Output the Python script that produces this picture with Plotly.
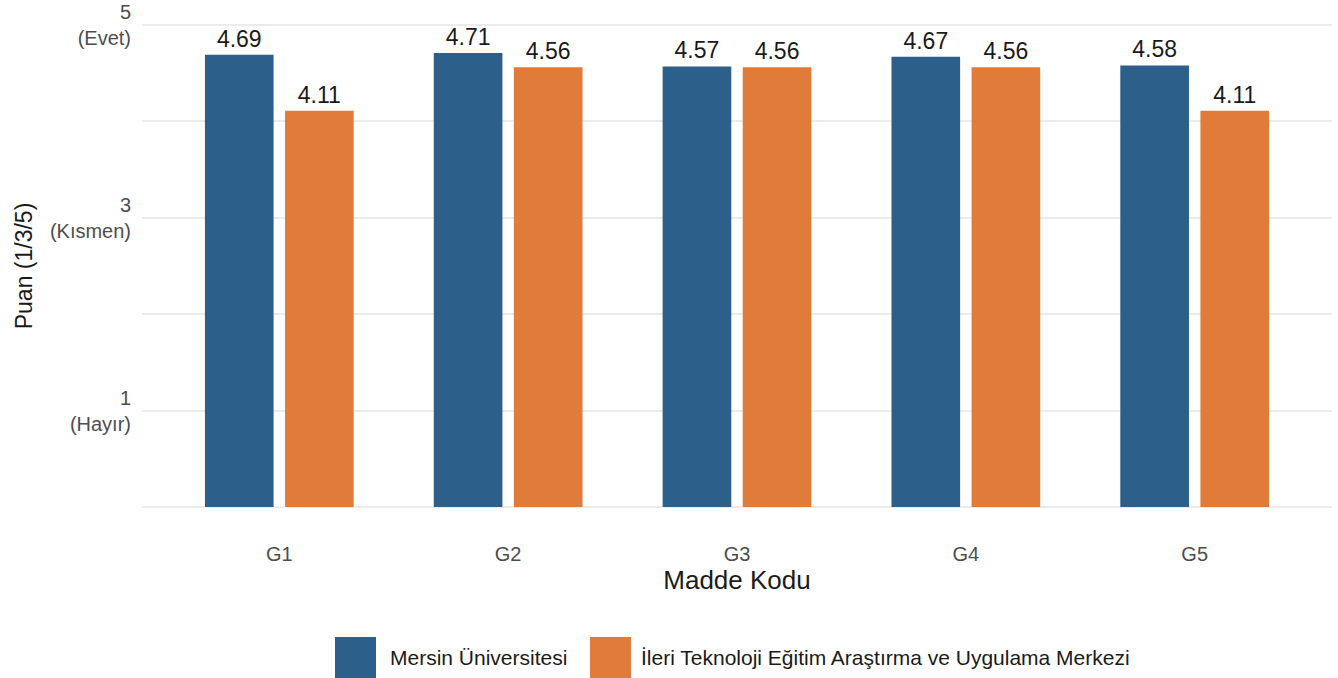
import plotly.graph_objects as go

categories = ["G1", "G2", "G3", "G4", "G5"]
series_names = ["Mersin Üniversitesi", "İleri Teknoloji Eğitim Araştırma ve Uygulama Merkezi"]
mersin_values = [4.69, 4.71, 4.57, 4.67, 4.58]
ileri_values = [4.11, 4.56, 4.56, 4.56, 4.11]
colors = ["#2C5F8A", "#E07B39"]
y_tickvals = [1, 3, 5]
y_ticktext = ["1<br>(Hayır)", "3<br>(Kısmen)", "5<br>(Evet)"]
x_title = "Madde Kodu"
y_title = "Puan (1/3/5)"

FONT = "Liberation Sans, Arial, sans-serif"

fig = go.Figure()
for name, vals, col in zip(series_names, [mersin_values, ileri_values], colors):
    fig.add_trace(go.Bar(
        x=categories, y=vals, name=name, marker_color=col,
        marker_line_width=0,
        texttemplate="%{y:.2f}", textposition="outside",
        textfont=dict(family=FONT, size=23, color="#1a1a1a"),
        cliponaxis=False, showlegend=False,
    ))

fig.update_layout(
    width=1338, height=678,
    margin=dict(l=142, r=6, t=23, b=169),
    plot_bgcolor="white", paper_bgcolor="white",
    barmode="group", bargap=0.3, bargroupgap=0.143,
    font=dict(family=FONT, color="#1a1a1a"),
)
fig.update_xaxes(
    range=[-0.6, 4.6], showgrid=False, zeroline=False, showline=False, automargin=False,
    ticks="outside", ticklen=27, tickcolor="rgba(0,0,0,0)",
    tickfont=dict(family=FONT, size=20, color="#4D4D4D"),
    title=dict(text=x_title, font=dict(family=FONT, size=26, color="#1a1a1a"), standoff=2),
)
fig.update_yaxes(
    range=[-0.02, 5.02], tickvals=y_tickvals, ticktext=y_ticktext, automargin=False,
    showgrid=True, gridcolor="#EBEBEB", gridwidth=2, zeroline=False, showline=False,
    ticks="outside", ticklen=6, tickcolor="rgba(0,0,0,0)",
    tickfont=dict(family=FONT, size=20, color="#4D4D4D"),
    minor=dict(tickvals=[0, 2, 4], showgrid=True, gridcolor="#EBEBEB", gridwidth=2, ticks=""),
    title=dict(text=y_title, font=dict(family=FONT, size=23, color="#1a1a1a"), standoff=10),
)

# legend drawn manually with large keys like the reference
PLOT_L, PLOT_W = 142.0, 1190.0
PLOT_B, PLOT_H = 509.0, 486.0
def px_x(p):
    return (p - PLOT_L) / PLOT_W
def px_y(p):
    return (PLOT_B - p) / PLOT_H

key_x = [335, 590]
text_x = [388, 639]
for i in range(2):
    fig.add_shape(type="rect", xref="paper", yref="paper",
                  x0=px_x(key_x[i]), x1=px_x(key_x[i] + 41),
                  y0=px_y(637), y1=px_y(678),
                  fillcolor=colors[i], line_width=0, layer="above")
    fig.add_annotation(xref="paper", yref="paper", x=px_x(text_x[i]), y=px_y(658),
                       text=series_names[i], showarrow=False, xanchor="left", yanchor="middle",
                       font=dict(family=FONT, size=21, color="#1a1a1a"))

fig.write_html("out.html", config={"displayModeBar": False},
               post_script="document.body.style.margin='0';")
